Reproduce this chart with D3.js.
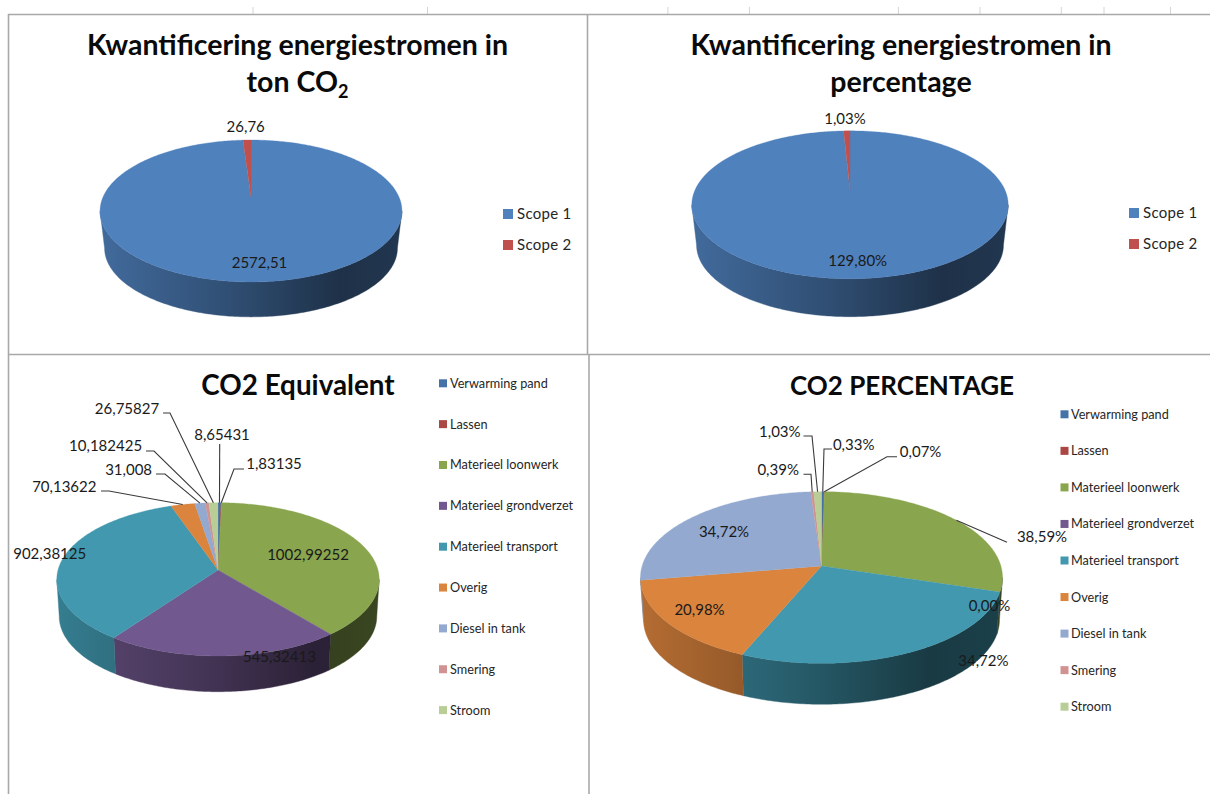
<!DOCTYPE html>
<html>
<head>
<meta charset="utf-8">
<script src="https://cdnjs.cloudflare.com/ajax/libs/d3/7.8.5/d3.min.js"></script>
<style>
	html, body { margin: 0; padding: 0; background: #fff; }
	svg { display: block; font-family: Lato, "Open Sans", sans-serif; }
</style>
</head>
<body>
<div id="chart"></div>
<script>
// values
const scopeNames = ['Scope 1', 'Scope 2'];
const scopeTons = [2572.51, 26.76];
const scopePercent = [129.80, 1.03];
const sourceNames = ['Verwarming pand', 'Lassen', 'Materieel loonwerk', 'Materieel grondverzet', 'Materieel transport', 'Overig', 'Diesel in tank', 'Smering', 'Stroom'];
const sourceTons = [8.65431, 1.83135, 1002.99252, 545.32413, 902.38125, 70.13622, 31.008, 10.182425, 26.75827];
const sourcePercent = [0.33, 0.07, 38.59, 0.00, 34.72, 20.98, 34.72, 0.39, 1.03];

const scopeColors = ['#4f81bd', '#c0504d'];
const sourceColors = ['#4572a7', '#aa4643', '#89a54e', '#71588f', '#4198af', '#db843d', '#93a9cf', '#d19392', '#b9cd96'];

const raw = v => String(v).replace('.', ',');
const two = v => v.toFixed(2).replace('.', ',');
const pct = v => two(v) + '%';

// each label: centre x, centre y and optional leader elbow [x1, y1, x2, y2]
const panels = [
	{
		id: 'p1', names: scopeNames, values: scopeTons, colors: scopeColors, format: two,
		title: [{ x: 297.5, y: 55, size: 28.5, text: 'Kwantificering energiestromen in' }, { x: 297.5, y: 92, size: 28.5, text: 'ton CO', sub: '2' }],
		pie: { cx: 251, cy: 197, rx: 148, ry: 68.2, k: 0.197, depth: 37.5, shrink: 0.97 },
		labels: [[259.5, 263], [245.7, 126.7]],
		legend: { x: 503, y: 214, step: 31, size: 10, textX: 517, font: 15, spacing: 0.3 }
	},
	{
		id: 'p2', names: scopeNames, values: scopePercent, colors: scopeColors, format: pct,
		title: [{ x: 901, y: 55, size: 28.5, text: 'Kwantificering energiestromen in' }, { x: 901, y: 92, size: 28.5, text: 'percentage' }],
		pie: { cx: 850, cy: 190, rx: 155, ry: 71, k: 0.2, depth: 40.6, shrink: 0.97 },
		labels: [[857.7, 260.7], [845, 118.7]],
		legend: { x: 1129, y: 213, step: 31, size: 10, textX: 1143, font: 15, spacing: 0.3 }
	},
	{
		id: 'p3', names: sourceNames, values: sourceTons, colors: sourceColors, format: raw,
		title: [{ x: 298, y: 395, size: 27.8, text: 'CO2 Equivalent' }],
		pie: { cx: 218, cy: 570, rx: 160, ry: 75.5, k: 0.122, depth: 37, shrink: 0.985 },
		labels: [
			[222, 434.3, 219.7, 444, 219.7, 444], [274, 464, 244, 469, 234, 469],
			[308, 554.7], [279.4, 656.7], [49.7, 553.3],
			[64.3, 486.7, 101, 491, 109, 491], [128.6, 469.3, 156, 474, 165, 474],
			[105.6, 446, 146, 451, 154, 451], [127, 408.3, 163, 413, 170, 413]
		],
		legend: { x: 439, y: 383.3, step: 40.85, size: 8, textX: 450, font: 12.7, spacing: 0 }
	},
	{
		id: 'p4', names: sourceNames, values: sourcePercent, colors: sourceColors, format: pct,
		title: [{ x: 902, y: 395, size: 26, text: 'CO2 PERCENTAGE' }],
		pie: { cx: 821.5, cy: 566, rx: 179.4, ry: 84.3, k: 0.134, depth: 42.6, shrink: 0.983 },
		labels: [
			[853.7, 444.7, 832, 449, 824, 449], [920.6, 451.3, 897, 456.7, 887, 456.7],
			[1042, 536.3, 1007, 542.3, 1007, 542.3], [989.4, 605.7], [983.4, 661],
			[699.5, 610], [724, 531.7],
			[778.2, 469.3, 803.5, 474.3, 811, 474.3], [779.8, 431.7, 803.5, 436, 812, 436]
		],
		legend: { x: 1060.5, y: 414.3, step: 36.55, size: 8, textX: 1071, font: 12.7, spacing: 0 }
	}
];
const topTicks = [253, 427.5, 667.9, 749.4, 898.4, 980, 1061.3, 1104, 1170.5];

const svg = d3.select('#chart').append('svg').attr('width', 1210).attr('height', 794);
const defs = svg.append('defs');

/* sheet lines behind the charts */
let frame = svg.append('g').attr('stroke', '#a9a9a9').attr('fill', 'none');
frame.selectAll('.tick').data(topTicks).enter().append('line')
	.attr('x1', d => d).attr('x2', d => d).attr('y1', 7).attr('y2', 14)
	.attr('stroke', '#d4d4d4');
[[8, 14.5, 1210, 14.5], [8.5, 14, 8.5, 794], [8, 354.5, 1210, 354.5], [587.5, 14, 587.5, 354], [589, 354, 589, 794]].forEach(l => {
	frame.append('line').attr('x1', l[0]).attr('y1', l[1]).attr('x2', l[2]).attr('y2', l[3]).attr('stroke-width', 1.6);
});

// wall shade, left to right
const shade = [[0, 0.82], [0.45, 0.6], [0.8, 0.38], [1, 0.42]];

function drawPanel(p) {
	let g = svg.append('g').attr('class', p.id);
	let pp = p.pie;
	let slices = d3.pie().sort(null).value(d => d)(p.values);

	// perspective of the disc: front is bigger than back
	let xTop = d3.scaleLinear().domain([-1, 1]).range([pp.cx - pp.rx, pp.cx + pp.rx]);
	let yTop = d3.scaleLinear().domain([-1, 1]).range([pp.cy - pp.ry, pp.cy + pp.ry]);
	let xLow = d3.scaleLinear().domain([-1, 1]).range([pp.cx - pp.rx * pp.shrink, pp.cx + pp.rx * pp.shrink]);
	let yLow = d3.scaleLinear().domain([-1, 1]).range([pp.cy + pp.depth - pp.ry * pp.shrink, pp.cy + pp.depth + pp.ry * pp.shrink]);
	let w = a => 1 / (1 + pp.k * Math.cos(a));
	let rimTop = a => [xTop(Math.sin(a) * w(a)), yTop(-Math.cos(a) * w(a))];
	let rimLow = a => [xLow(Math.sin(a) * w(a)), yLow(-Math.cos(a) * w(a))];
	let sweep = (a, b) => {
		let n = Math.ceil((b - a) / 0.015) + 1;
		return d3.range(n + 1).map(i => a + (b - a) * i / n);
	};
	let line = d3.line();

	/* Walls */
	let tangent = Math.acos(-pp.k);
	let from = tangent, to = 2 * Math.PI - tangent;
	slices.forEach((s, i) => {
		let a = Math.max(s.startAngle, from), b = Math.min(s.endAngle, to);
		if (b <= a) return;
		let gid = p.id + '-wall-' + i;
		let grad = defs.append('linearGradient').attr('id', gid)
			.attr('gradientUnits', 'userSpaceOnUse')
			.attr('x1', pp.cx - pp.rx).attr('x2', pp.cx + pp.rx).attr('y1', 0).attr('y2', 0);
		let base = d3.rgb(p.colors[i]);
		shade.forEach(st => {
			grad.append('stop').attr('offset', st[0])
				.attr('stop-color', d3.rgb(base.r * st[1], base.g * st[1], base.b * st[1]).formatHex());
		});
		let angles = sweep(a, b);
		let pts = angles.map(rimTop).concat(angles.slice().reverse().map(rimLow));
		g.append('path').attr('d', line(pts) + 'Z').attr('fill', 'url(#' + gid + ')')
			.attr('stroke', 'url(#' + gid + ')').attr('stroke-width', 0.4);
	});

	/* Top of the disc */
	slices.forEach((s, i) => {
		if (s.endAngle <= s.startAngle) return;
		let pts = [[xTop(0), yTop(0)]].concat(sweep(s.startAngle, s.endAngle).map(rimTop));
		g.append('path').attr('d', line(pts) + 'Z')
			.attr('fill', p.colors[i]).attr('stroke', p.colors[i]).attr('stroke-width', 0.3);
	});

	/* Leaders and labels */
	slices.forEach((s, i) => {
		let l = p.labels[i];
		if (l.length > 2) {
			let mid = (s.startAngle + s.endAngle) / 2;
			g.append('path').attr('fill', 'none').attr('stroke', '#3a3a3a').attr('stroke-width', 1.1)
				.attr('d', line([[l[2], l[3]], [l[4], l[5]], rimTop(mid)]));
		}
		g.append('text').attr('x', l[0]).attr('y', l[1]).attr('dy', '.35em')
			.attr('text-anchor', 'middle').attr('font-size', 15).attr('fill', '#1a1a1a')
			.text(p.format(p.values[i]));
	});

	/* Legend */
	let lg = p.legend;
	let items = g.selectAll('.legend').data(p.names).enter().append('g')
		.attr('class', 'legend')
		.attr('transform', (d, i) => 'translate(0,' + (lg.y + i * lg.step) + ')');
	items.append('rect').attr('x', lg.x).attr('y', -lg.size / 2)
		.attr('width', lg.size).attr('height', lg.size)
		.attr('fill', (d, i) => p.colors[i]);
	items.append('text').attr('x', lg.textX).attr('dy', '.35em')
		.attr('font-size', lg.font).attr('letter-spacing', lg.spacing).attr('fill', '#262626')
		.text(d => d);

	/* Title */
	p.title.forEach(t => {
		let txt = g.append('text').attr('x', t.x).attr('y', t.y).attr('text-anchor', 'middle')
			.attr('font-size', t.size).attr('font-weight', 700).attr('fill', '#0a0a0a').text(t.text);
		if (t.sub) txt.append('tspan').attr('dy', 6).attr('font-size', 18).text(t.sub);
	});
}

panels.forEach(drawPanel);
</script>
</body>
</html>
